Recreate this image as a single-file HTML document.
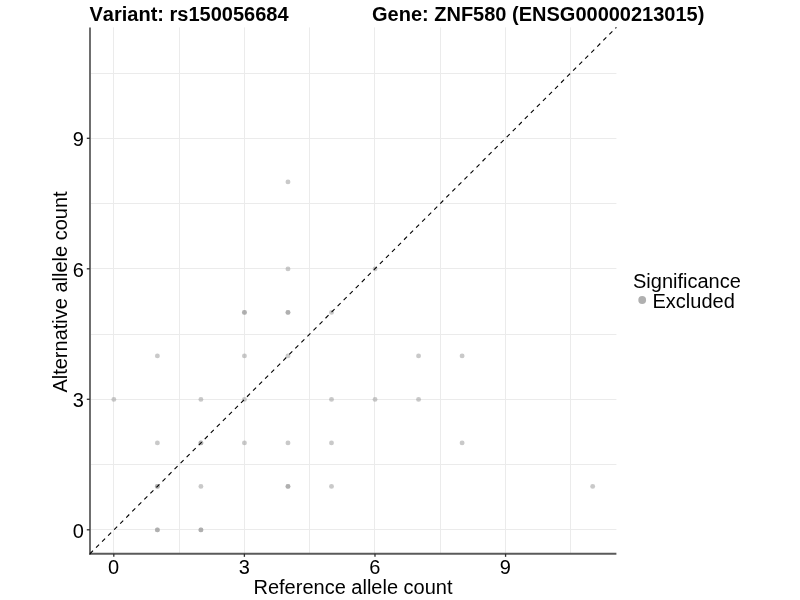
<!DOCTYPE html>
<html><head><meta charset="utf-8"><title>Allele counts</title>
<style>
html,body{margin:0;padding:0;background:#fff;}
svg{display:block;font-family:"Liberation Sans",Arial,sans-serif;font-kerning:none;}
</style></head><body>
<svg width="800" height="600" viewBox="0 0 800 600">
<rect width="800" height="600" fill="#fff"/>

<g stroke="#ebebeb" stroke-width="1" fill="none">
<line x1="113.5" y1="27.4" x2="113.5" y2="553.75"/>
<line x1="90.0" y1="529.5" x2="616.4" y2="529.5"/>
<line x1="179.5" y1="27.4" x2="179.5" y2="553.75"/>
<line x1="90.0" y1="464.5" x2="616.4" y2="464.5"/>
<line x1="244.5" y1="27.4" x2="244.5" y2="553.75"/>
<line x1="90.0" y1="399.5" x2="616.4" y2="399.5"/>
<line x1="309.5" y1="27.4" x2="309.5" y2="553.75"/>
<line x1="90.0" y1="334.5" x2="616.4" y2="334.5"/>
<line x1="374.5" y1="27.4" x2="374.5" y2="553.75"/>
<line x1="90.0" y1="268.5" x2="616.4" y2="268.5"/>
<line x1="440.5" y1="27.4" x2="440.5" y2="553.75"/>
<line x1="90.0" y1="203.5" x2="616.4" y2="203.5"/>
<line x1="505.5" y1="27.4" x2="505.5" y2="553.75"/>
<line x1="90.0" y1="138.5" x2="616.4" y2="138.5"/>
<line x1="570.5" y1="27.4" x2="570.5" y2="553.75"/>
<line x1="90.0" y1="73.5" x2="616.4" y2="73.5"/>
</g>
<g fill="#999999" fill-opacity="0.53">
<circle cx="113.85" cy="399.40" r="2.45"/>
<circle cx="157.38" cy="529.90" r="2.45"/>
<circle cx="157.38" cy="529.90" r="2.45"/>
<circle cx="157.38" cy="486.40" r="2.45"/>
<circle cx="157.38" cy="486.40" r="2.45"/>
<circle cx="157.38" cy="442.90" r="2.45"/>
<circle cx="157.38" cy="355.90" r="2.45"/>
<circle cx="200.91" cy="529.90" r="2.45"/>
<circle cx="200.91" cy="529.90" r="2.45"/>
<circle cx="200.91" cy="486.40" r="2.45"/>
<circle cx="200.91" cy="442.90" r="2.45"/>
<circle cx="200.91" cy="442.90" r="2.45"/>
<circle cx="200.91" cy="399.40" r="2.45"/>
<circle cx="244.44" cy="442.90" r="2.45"/>
<circle cx="244.44" cy="399.40" r="2.45"/>
<circle cx="244.44" cy="355.90" r="2.45"/>
<circle cx="244.44" cy="312.40" r="2.45"/>
<circle cx="244.44" cy="312.40" r="2.45"/>
<circle cx="287.97" cy="486.40" r="2.45"/>
<circle cx="287.97" cy="486.40" r="2.45"/>
<circle cx="287.97" cy="442.90" r="2.45"/>
<circle cx="287.97" cy="355.90" r="2.45"/>
<circle cx="287.97" cy="312.40" r="2.45"/>
<circle cx="287.97" cy="312.40" r="2.45"/>
<circle cx="287.97" cy="268.90" r="2.45"/>
<circle cx="287.97" cy="181.90" r="2.45"/>
<circle cx="331.50" cy="486.40" r="2.45"/>
<circle cx="331.50" cy="442.90" r="2.45"/>
<circle cx="331.50" cy="399.40" r="2.45"/>
<circle cx="331.50" cy="312.40" r="2.45"/>
<circle cx="375.03" cy="399.40" r="2.45"/>
<circle cx="375.03" cy="268.90" r="2.45"/>
<circle cx="418.56" cy="399.40" r="2.45"/>
<circle cx="418.56" cy="355.90" r="2.45"/>
<circle cx="462.09" cy="442.90" r="2.45"/>
<circle cx="462.09" cy="355.90" r="2.45"/>
<circle cx="592.68" cy="486.40" r="2.45"/>
</g>
<g stroke="#646464" stroke-width="1.95" fill="none"><line x1="90.0" y1="27.4" x2="90.0" y2="554.72" stroke="#6b6b6b"/><line x1="89.03" y1="553.75" x2="616.4" y2="553.75" stroke="#5a5a5a"/></g>
<g stroke="#303030" stroke-width="1.3">
<line x1="113.80" y1="553.75" x2="113.80" y2="556.85"/>
<line x1="86.8" y1="529.80" x2="90.0" y2="529.80"/>
<line x1="244.39" y1="553.75" x2="244.39" y2="556.85"/>
<line x1="86.8" y1="399.30" x2="90.0" y2="399.30"/>
<line x1="374.98" y1="553.75" x2="374.98" y2="556.85"/>
<line x1="86.8" y1="268.80" x2="90.0" y2="268.80"/>
<line x1="505.57" y1="553.75" x2="505.57" y2="556.85"/>
<line x1="86.8" y1="138.30" x2="90.0" y2="138.30"/>
</g>
<line x1="90.0" y1="553.75" x2="616.4" y2="27.4" stroke="#000" stroke-width="1.1" stroke-dasharray="4.27 4.27"/>
<g font-size="20" fill="#000">
<text x="113.60" y="574.4" text-anchor="middle">0</text>
<text x="83.9" y="537.90" text-anchor="end">0</text>
<text x="244.19" y="574.4" text-anchor="middle">3</text>
<text x="83.9" y="407.40" text-anchor="end">3</text>
<text x="374.78" y="574.4" text-anchor="middle">6</text>
<text x="83.9" y="276.90" text-anchor="end">6</text>
<text x="505.37" y="574.4" text-anchor="middle">9</text>
<text x="83.9" y="146.40" text-anchor="end">9</text>
</g>
<text x="353" y="593.8" font-size="20" text-anchor="middle" fill="#000">Reference allele count</text>
<text transform="translate(67.2,292) rotate(-90)" font-size="20" text-anchor="middle" fill="#000">Alternative allele count</text>
<text x="89.5" y="21" font-size="20" font-weight="bold" fill="#000">Variant: rs150056684</text>
<text x="372" y="21" font-size="20" font-weight="bold" fill="#000">Gene: ZNF580 (ENSG00000213015)</text>
<text x="633" y="288" font-size="20" fill="#000">Significance</text>
<circle cx="642.2" cy="300" r="3.9" fill="#b0b0b0"/>
<text x="652.5" y="308.4" font-size="20" fill="#000">Excluded</text>
</svg></body></html>
